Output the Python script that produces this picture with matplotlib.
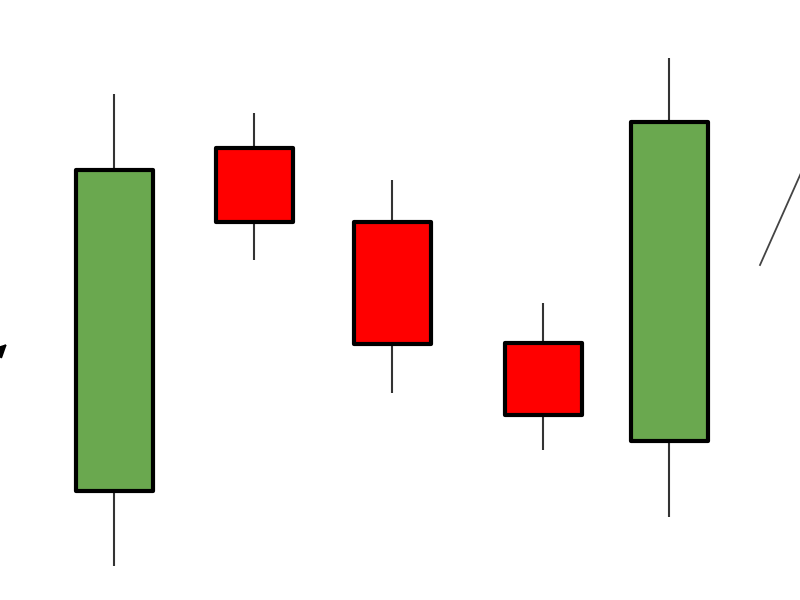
import matplotlib
matplotlib.use("Agg")
import matplotlib.pyplot as plt
from matplotlib.patches import Rectangle

# Candle data (price units)
x_pos = [114, 254, 392, 543, 669]
opens = [109, 452, 378, 257, 159]
closes = [430, 378, 256, 185, 478]
highs = [506, 487, 420, 297, 542]
lows = [34, 340, 207, 150, 83]

GREEN = "#6aa84f"
RED = "#ff0000"
body_w = 77

fig = plt.figure(figsize=(8, 6), dpi=100)
ax = fig.add_axes([0, 0, 1, 1])
ax.set_xlim(0, 800)
ax.set_ylim(0, 600)
ax.axis("off")

for x, o, c, h, l in zip(x_pos, opens, closes, highs, lows):
    ax.plot([x, x], [l, h], color="#333333", lw=1.5, zorder=1, solid_capstyle="butt")
    color = GREEN if c > o else RED
    bottom = min(o, c)
    height = abs(c - o)
    ax.add_patch(Rectangle((x - body_w / 2, bottom), body_w, height,
                           facecolor=color, edgecolor="black", lw=3,
                           joinstyle="round", zorder=2))

# partial decorations at edges
ax.plot([760, 805], [335, 436], color="#444444", lw=1.3, zorder=1)
ax.annotate("", xy=(9, 258), xytext=(-25, 225),
            arrowprops=dict(arrowstyle="-|>", color="black", lw=1.5,
                            mutation_scale=20), annotation_clip=False)

fig.savefig("out.png", dpi=100)
